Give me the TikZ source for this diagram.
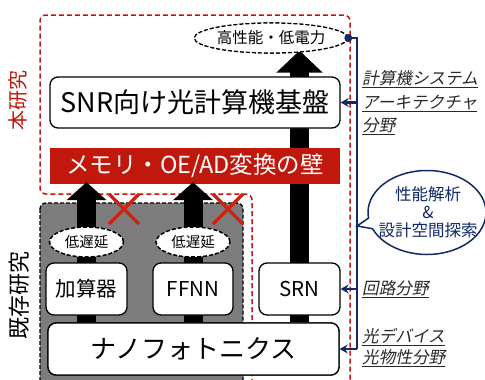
\documentclass[tikz,border=0pt]{standalone}
\usepackage{fontspec}
\setmainfont{Noto Sans CJK JP}
\newfontfamily\slfont{Noto Sans CJK JP}[FakeSlant=0.2]
\usetikzlibrary{arrows.meta,shapes.geometric,shapes.callouts}
\definecolor{dred}{RGB}{192,24,12}
\definecolor{xred}{RGB}{205,35,20}
\definecolor{navy}{RGB}{18,40,105}
\definecolor{boxgray}{RGB}{125,125,125}
\definecolor{labgray}{RGB}{40,40,40}
\begin{document}
\begin{tikzpicture}[x=1pt,y=-1pt,
  wbox/.style={draw=black, line width=1.3pt, fill=white, rounded corners=8pt, inner sep=0pt},
  dell/.style={ellipse, draw=black, line width=1.2pt, dash pattern=on 4pt off 2pt, fill=white, inner sep=0pt},
  bigarrow/.style={line width=19pt, -{Triangle[width=45pt,length=22pt]}},
  smallarrow/.style={line width=19pt, -{Triangle[width=39pt,length=18pt]}},
  navyline/.style={draw=navy, line width=2.4pt},
  navyarrow/.style={navyline, -{Stealth[length=8pt,width=9pt]}},
  lab/.style={text=labgray, align=left, anchor=west, inner sep=0pt, font=\slfont\fontsize{16.6}{23.5}\selectfont},
  xmark/.style={draw=xred, line width=3.5pt},
  sidelab/.style={rotate=90, inner sep=0pt}
]
\useasboundingbox (0,0) rectangle (485,380);
\clip (0,0) rectangle (485,380);

% existing-research gray area
\draw[fill=boxgray, draw=black, line width=1.3pt, dash pattern=on 4pt off 2pt, rounded corners=6pt]
  (40,203) rectangle (243,400);

% this-research red dashed outline
\draw[dred, line width=1.5pt, dash pattern=on 5pt off 3pt, rounded corners=6pt]
  (252,400) -- (252,194) -- (40,194) -- (40,15) -- (350,15) -- (350,400);

% nodes (placed first for naming; drawn in order below)
\node[wbox, minimum width=291pt, minimum height=52pt, font=\fontsize{26}{30}\selectfont] (nano) at (193.5,349) {ナノフォトニクス};
\node[dell, minimum width=138pt, minimum height=30pt, font=\fontsize{15.5}{18}\selectfont] (hp) at (271,38) {高性能・低電力};

% big arrow from nanophotonics to high performance
\path (299.5,289) coordinate (srnc);
\draw[bigarrow] (srnc |- nano.north) -- ([yshift=3pt]srnc |- hp.south);

% red wall
\node[fill=dred, text=white, minimum width=290pt, minimum height=36pt, inner sep=0pt, font=\fontsize{23.5}{26}\selectfont] (bar) at (195,166) {メモリ・OE/AD変換の壁};

% SNR platform
\node[wbox, minimum width=290pt, minimum height=51pt, font=\fontsize{27}{30}\selectfont] (snr) at (195,102.5) {SNR向け光計算機基盤};

% left arrows
\path (86.5,289) coordinate (addc) (193,289) coordinate (ffc);
\draw[smallarrow] (addc |- nano.north) -- ([yshift=2pt]addc |- bar.south);
\draw[smallarrow] (ffc |- nano.north) -- ([yshift=2pt]ffc |- bar.south);

% boxes
\node[wbox, minimum width=81pt, minimum height=52pt, font=\fontsize{20.5}{24}\selectfont] (add) at (addc) {加算器};
\node[wbox, minimum width=80pt, minimum height=52pt, font=\fontsize{20.5}{24}\selectfont] (ffnn) at (ffc) {FFNN};
\node[wbox, minimum width=81pt, minimum height=52pt, font=\fontsize{20.5}{24}\selectfont] (srn) at (srnc) {SRN};
\node[wbox, minimum width=291pt, minimum height=52pt, font=\fontsize{26}{30}\selectfont] at (nano) {ナノフォトニクス};
\node[dell, minimum width=138pt, minimum height=30pt, font=\fontsize{15.5}{18}\selectfont] at (hp) {高性能・低電力};

% low latency ellipses
\node[dell, line width=1.5pt, minimum width=74pt, minimum height=30pt, font=\fontsize{14.5}{17}\selectfont] (lat1) at (86.5,242) {低遅延};
\node[dell, line width=1.5pt, minimum width=74pt, minimum height=30pt, font=\fontsize{14.5}{17}\selectfont] (lat2) at (193,242) {低遅延};

% red crosses
\draw[xmark] (109,194) -- (139,224) (109,224) -- (139,194);
\draw[xmark] (213,194) -- (243,224) (213,224) -- (243,194);

% navy analysis line
\coordinate (trunkTop) at (357,38);
\coordinate (trunkBot) at (357,349);
\draw[navyline] (hp.east) -- (trunkTop) -- (trunkBot);
\fill[navy] (hp.east) circle (4pt);
\draw[navyarrow] (trunkTop |- snr.east) -- (snr.east);
\draw[navyarrow] (trunkTop |- srn.east) -- (srn.east);
\draw[navyarrow] (trunkTop |- nano.east) -- (nano.east);

% speech bubble
\coordinate (ptr) at (357,226);
\node[ellipse callout, draw=navy, line width=1.5pt, fill=white,
  minimum width=118pt, minimum height=84pt, inner sep=0pt,
  callout absolute pointer={(ptr)}] (bub) at (427,212.5) {};
\node[text=navy, align=center, inner sep=0pt, font=\fontsize{16.5}{18}\selectfont] (bubtext) at ([xshift=1pt]bub.center)
  {性能解析\\\&\\設計空間探索};

% field labels
\node[lab] (l1) at (362,103) {\underline{計算機システム}\\\underline{アーキテクチャ}\\\underline{分野}};
\node[lab] (l2) at (362,289) {\underline{回路分野}};
\node[lab, font=\slfont\fontsize{16.6}{21}\selectfont] (l3) at (362,348) {\underline{光デバイス}\\\underline{光物性分野}};

% side labels
\node[sidelab, text=dred, font=\fontsize{20}{22}\selectfont] (hon) at (18,100) {本研究};
\node[sidelab, text=black, font=\fontsize{22}{24}\selectfont] (kizon) at (19,295) {既存研究};
\end{tikzpicture}
\end{document}
